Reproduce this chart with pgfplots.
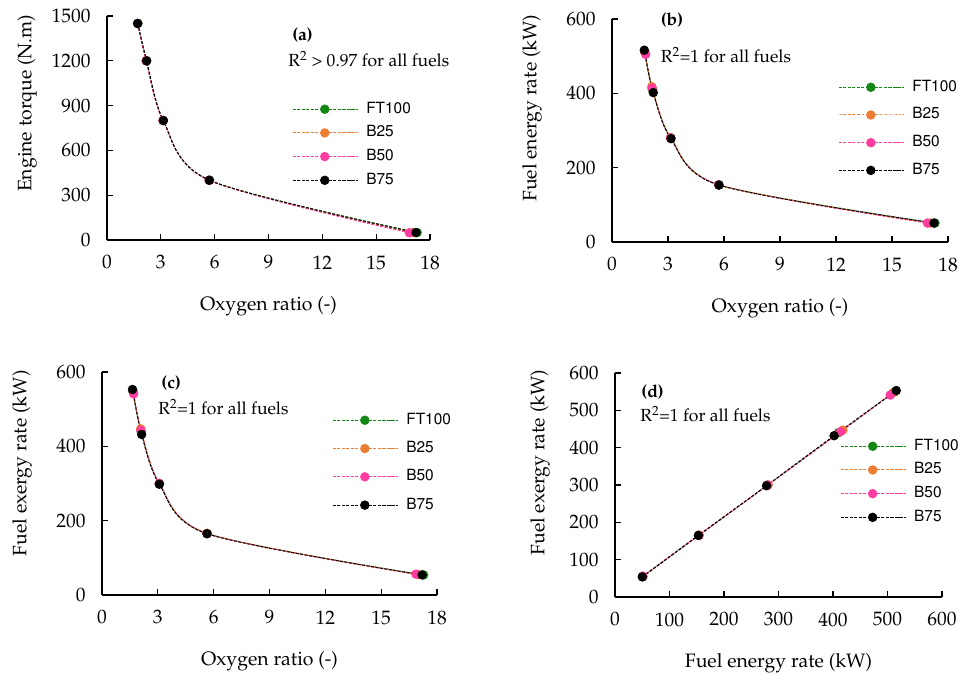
\documentclass[border=0pt]{standalone}
\usepackage[T1]{fontenc}
\usepackage{mathpazo}
\usepackage{pgfplots}
\pgfplotsset{compat=1.18}
\definecolor{cFT}{RGB}{20,135,20}
\definecolor{cBa}{RGB}{237,125,49}
\definecolor{cBb}{RGB}{255,60,160}
\newcommand{\serfont}{\fontsize{19.5}{23}\selectfont}
\newcommand{\annfont}{\fontsize{17.6}{21}\selectfont}
\newcommand{\legfont}{\fontfamily{phv}\fontsize{15.5}{18}\selectfont}
\pgfplotsset{
  panel/.style={
    scale only axis, clip=false,
    axis lines*=left,
    axis line style={line width=1.3bp,-},
    tick style={line width=1.1bp, black},
    major tick length=6bp, tick align=inside,
    xtick pos=bottom, ytick pos=left,
    tick label style={font=\serfont},
    xticklabel style={yshift=-12bp},
    yticklabel style={xshift=-13bp},
    /pgf/number format/1000 sep={},
    every axis y label/.style={at={(rel axis cs:0,#1)}, xshift=-80bp, rotate=90, anchor=center, font=\serfont},
    every axis x label/.style={at={(rel axis cs:0.5,0)}, yshift=-66bp, anchor=center, font=\serfont},
    legend cell align=left,
    legend image code/.code={
      \draw[mark repeat=2, mark phase=2] plot coordinates {(0bp,0bp) (32bp,0bp) (65bp,0bp)};},
    legend style={draw=none, fill=none, font=\legfont, anchor=north west,
      inner xsep=0pt, inner ysep=0pt,
      nodes={inner sep=0pt, text height=11bp, text depth=3bp},
      /tikz/every odd column/.append style={column sep=8bp}},
  },
  ser/.style={color=#1, dash pattern=on 3bp off 1.5bp, line width=1bp,
    mark=*, mark size=4.2bp, mark options={solid, fill=#1, draw=#1}, smooth},
}
\begin{document}
\begin{tikzpicture}[x=1bp,y=1bp]
\path[use as bounding box] (0,0) rectangle (958,676);

% (a)
\begin{axis}[panel=0.61, at={(107bp,436bp)}, anchor=south west,
  width=323bp, height=224bp,
  xmin=0, xmax=18, xtick={0,3,...,18},
  ymin=0, ymax=1500, ytick={0,300,...,1500},
  xlabel={Oxygen ratio (-)}, ylabel={Engine torque (N.m)},
  legend style={at={(0.573,0.616)}, row sep=9.7bp}]
\addplot[ser=cFT] coordinates {(1.72,1450) (2.20,1200) (3.14,800) (5.72,400) (17.28,50)};
\addplot[ser=cBa] coordinates {(1.71,1450) (2.19,1200) (3.13,800) (5.70,400) (17.05,50)};
\addplot[ser=cBb] coordinates {(1.70,1450) (2.18,1200) (3.12,800) (5.69,400) (16.85,48)};
\addplot[ser=black] coordinates {(1.71,1450) (2.21,1200) (3.14,800) (5.70,400) (17.22,50)};
\legend{FT100,B25,B50,B75}
\node[anchor=west, font=\annfont\bfseries] at (rel axis cs:0.563,0.915) {(a)};
\node[anchor=west, font=\annfont] at (rel axis cs:0.551,0.808) {R\textsuperscript{2} > 0.97 for all fuels};
\end{axis}

% (b)
\begin{axis}[panel=0.60, at={(612bp,434bp)}, anchor=south west,
  width=336bp, height=223bp,
  xmin=0, xmax=18, xtick={0,3,...,18},
  ymin=0, ymax=600, ytick={0,200,...,600},
  xlabel={Oxygen ratio (-)}, ylabel={Fuel energy rate (kW)},
  legend style={at={(0.673,0.726)}, row sep=13.7bp}]
\addplot[ser=cFT] coordinates {(1.75,512) (2.16,410) (3.15,280) (5.73,154) (17.30,51)};
\addplot[ser=cBa] coordinates {(1.76,510) (2.13,418) (3.14,281) (5.72,154) (17.05,51)};
\addplot[ser=cBb] coordinates {(1.80,505) (2.15,414) (3.13,280) (5.71,154) (16.90,51)};
\addplot[ser=black] coordinates {(1.73,516) (2.21,402) (3.16,278) (5.73,153) (17.25,51)};
\legend{FT100,B25,B50,B75}
\node[anchor=west, font=\annfont\bfseries] at (rel axis cs:0.135,0.996) {(b)};
\node[anchor=west, font=\annfont] at (rel axis cs:0.135,0.839) {R\textsuperscript{2}=1 for all fuels};
\end{axis}

% (c)
\begin{axis}[panel=0.59, at={(102bp,81bp)}, anchor=south west,
  width=335bp, height=223bp,
  xmin=0, xmax=18, xtick={0,3,...,18},
  ymin=0, ymax=600, ytick={0,200,...,600},
  xlabel={Oxygen ratio (-)}, ylabel={Fuel exergy rate (kW)},
  legend style={at={(0.687,0.816)}, row sep=14.3bp}]
\addplot[ser=cFT] coordinates {(1.66,548) (2.10,440) (3.09,300) (5.66,165) (17.28,54)};
\addplot[ser=cBa] coordinates {(1.67,547) (2.08,447) (3.08,300) (5.65,166) (17.00,55)};
\addplot[ser=cBb] coordinates {(1.70,541) (2.09,443) (3.08,300) (5.64,165) (16.87,56)};
\addplot[ser=black] coordinates {(1.64,553) (2.13,432) (3.08,298) (5.64,165) (17.20,54)};
\legend{FT100,B25,B50,B75}
\node[anchor=west, font=\annfont\bfseries] at (rel axis cs:0.167,0.951) {(c)};
\node[anchor=west, font=\annfont] at (rel axis cs:0.158,0.843) {R\textsuperscript{2}=1 for all fuels};
\end{axis}

% (d)
\begin{axis}[panel=0.60, at={(615bp,79bp)}, anchor=south west,
  width=327bp, height=224bp,
  xmin=0, xmax=600, xtick={0,100,...,600},
  ymin=0, ymax=600, ytick={0,100,...,600},
  xlabel={Fuel energy rate (kW)}, ylabel={Fuel exergy rate (kW)},
  every axis y label/.style={at={(rel axis cs:0,0.60)}, xshift=-75bp, rotate=90, anchor=center, font=\serfont},
  legend style={at={(0.688,0.705)}, row sep=9.7bp}]
\addplot[ser=cFT] coordinates {(51,54) (154,165) (280,300) (410,440) (512,548)};
\addplot[ser=cBa] coordinates {(51,55) (154,166) (281,300) (418,447) (510,547)};
\addplot[ser=cBb] coordinates {(51,56) (154,165) (280,300) (414,443) (505,541)};
\addplot[ser=black] coordinates {(50,54) (153,165) (278,298) (402,432) (516,553)};
\legend{FT100,B25,B50,B75}
\node[anchor=west, font=\annfont\bfseries] at (rel axis cs:0.070,0.915) {(d)};
\node[anchor=west, font=\annfont] at (rel axis cs:0.067,0.817) {R\textsuperscript{2}=1 for all fuels};
\end{axis}
\end{tikzpicture}
\end{document}
